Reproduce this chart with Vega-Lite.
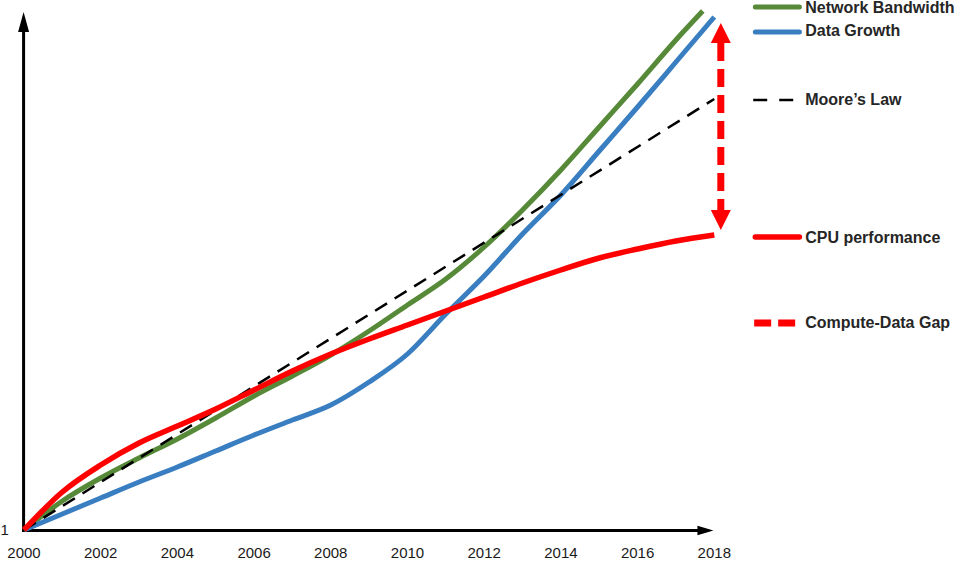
{
  "$schema": "https://vega.github.io/schema/vega-lite/v6.json",
  "width": 960,
  "height": 561,
  "autosize": {"type": "fit", "contains": "padding"},
  "padding": 0,
  "background": "white",
  "config": {"view": {"stroke": null}},
  "datasets": {
    "lines": [
      {"series": "Network Bandwidth", "year": 2000, "value": 0},
      {"series": "Network Bandwidth", "year": 2001, "value": 29},
      {"series": "Network Bandwidth", "year": 2002, "value": 52},
      {"series": "Network Bandwidth", "year": 2003, "value": 72},
      {"series": "Network Bandwidth", "year": 2004, "value": 91},
      {"series": "Network Bandwidth", "year": 2005, "value": 112},
      {"series": "Network Bandwidth", "year": 2006, "value": 134},
      {"series": "Network Bandwidth", "year": 2007, "value": 154},
      {"series": "Network Bandwidth", "year": 2008, "value": 175},
      {"series": "Network Bandwidth", "year": 2009, "value": 199},
      {"series": "Network Bandwidth", "year": 2010, "value": 225},
      {"series": "Network Bandwidth", "year": 2011, "value": 251},
      {"series": "Network Bandwidth", "year": 2012, "value": 283},
      {"series": "Network Bandwidth", "year": 2013, "value": 320},
      {"series": "Network Bandwidth", "year": 2014, "value": 360},
      {"series": "Network Bandwidth", "year": 2015, "value": 403},
      {"series": "Network Bandwidth", "year": 2016, "value": 446},
      {"series": "Network Bandwidth", "year": 2017, "value": 490},
      {"series": "Network Bandwidth", "year": 2017.7, "value": 519},
      {"series": "Data Growth", "year": 2000, "value": 0},
      {"series": "Data Growth", "year": 2001, "value": 16},
      {"series": "Data Growth", "year": 2002, "value": 32},
      {"series": "Data Growth", "year": 2003, "value": 48},
      {"series": "Data Growth", "year": 2004, "value": 63},
      {"series": "Data Growth", "year": 2005, "value": 79},
      {"series": "Data Growth", "year": 2006, "value": 95},
      {"series": "Data Growth", "year": 2007, "value": 110},
      {"series": "Data Growth", "year": 2008, "value": 125},
      {"series": "Data Growth", "year": 2009, "value": 148},
      {"series": "Data Growth", "year": 2010, "value": 176},
      {"series": "Data Growth", "year": 2011, "value": 216},
      {"series": "Data Growth", "year": 2012, "value": 254},
      {"series": "Data Growth", "year": 2013, "value": 296},
      {"series": "Data Growth", "year": 2014, "value": 335},
      {"series": "Data Growth", "year": 2015, "value": 379},
      {"series": "Data Growth", "year": 2016, "value": 423},
      {"series": "Data Growth", "year": 2017, "value": 468},
      {"series": "Data Growth", "year": 2018, "value": 513},
      {"series": "Moore's Law", "year": 2000, "value": 0},
      {"series": "Moore's Law", "year": 2018, "value": 431},
      {"series": "CPU performance", "year": 2000, "value": 0},
      {"series": "CPU performance", "year": 2001, "value": 38},
      {"series": "CPU performance", "year": 2002, "value": 65},
      {"series": "CPU performance", "year": 2003, "value": 87},
      {"series": "CPU performance", "year": 2004, "value": 104},
      {"series": "CPU performance", "year": 2005, "value": 121},
      {"series": "CPU performance", "year": 2006, "value": 140},
      {"series": "CPU performance", "year": 2007, "value": 159},
      {"series": "CPU performance", "year": 2008, "value": 176},
      {"series": "CPU performance", "year": 2009, "value": 191},
      {"series": "CPU performance", "year": 2010, "value": 205},
      {"series": "CPU performance", "year": 2011, "value": 219},
      {"series": "CPU performance", "year": 2012, "value": 233},
      {"series": "CPU performance", "year": 2013, "value": 247},
      {"series": "CPU performance", "year": 2014, "value": 260},
      {"series": "CPU performance", "year": 2015, "value": 272},
      {"series": "CPU performance", "year": 2016, "value": 281},
      {"series": "CPU performance", "year": 2017, "value": 289},
      {"series": "CPU performance", "year": 2018, "value": 295}
    ],
    "ticks": [
      {"year": 2000, "label": "2000"},
      {"year": 2002, "label": "2002"},
      {"year": 2004, "label": "2004"},
      {"year": 2006, "label": "2006"},
      {"year": 2008, "label": "2008"},
      {"year": 2010, "label": "2010"},
      {"year": 2012, "label": "2012"},
      {"year": 2014, "label": "2014"},
      {"year": 2016, "label": "2016"},
      {"year": 2018, "label": "2018"}
    ]
  },
  "layer": [
    {
      "data": {"values": [{}]},
      "mark": {"type": "rule", "color": "#000000", "strokeWidth": 3},
      "encoding": {
        "x": {"datum": 1999.99, "type": "quantitative", "scale": {"domain": [1999.401, 2024.407], "nice": false, "zero": false}, "axis": null},
        "y": {"datum": -2, "type": "quantitative", "scale": {"domain": [-31, 530], "nice": false, "zero": false}, "axis": null},
        "y2": {"datum": 500}
      }
    },
    {
      "data": {"values": [{}]},
      "mark": {"type": "rule", "color": "#000000", "strokeWidth": 3},
      "encoding": {
        "x": {"datum": 1999.95, "type": "quantitative", "scale": {"domain": [1999.401, 2024.407], "nice": false, "zero": false}, "axis": null},
        "x2": {"datum": 2017.6},
        "y": {"datum": -0.5, "type": "quantitative", "scale": {"domain": [-31, 530], "nice": false, "zero": false}, "axis": null}
      }
    },
    {
      "data": {"values": [{}]},
      "mark": {"type": "point", "shape": "M-0.55,1L0,-1L0.55,1Z", "size": 400, "filled": true, "color": "#000000", "opacity": 1, "strokeWidth": 0},
      "encoding": {
        "x": {"datum": 1999.99, "type": "quantitative", "scale": {"domain": [1999.401, 2024.407], "nice": false, "zero": false}, "axis": null},
        "y": {"datum": 508, "type": "quantitative", "scale": {"domain": [-31, 530], "nice": false, "zero": false}, "axis": null}
      }
    },
    {
      "data": {"values": [{}]},
      "mark": {"type": "point", "shape": "M-1,-0.6L1,0L-1,0.6Z", "size": 256, "filled": true, "color": "#000000", "opacity": 1, "strokeWidth": 0},
      "encoding": {
        "x": {"datum": 2017.77, "type": "quantitative", "scale": {"domain": [1999.401, 2024.407], "nice": false, "zero": false}, "axis": null},
        "y": {"datum": -0.5, "type": "quantitative", "scale": {"domain": [-31, 530], "nice": false, "zero": false}, "axis": null}
      }
    },
    {
      "data": {"name": "ticks"},
      "mark": {"type": "text", "font": "Liberation Sans", "fontSize": 15, "color": "#1a1a1a", "align": "center", "baseline": "middle"},
      "encoding": {
        "x": {"field": "year", "type": "quantitative", "scale": {"domain": [1999.401, 2024.407], "nice": false, "zero": false}, "axis": null},
        "y": {"datum": -23, "type": "quantitative", "scale": {"domain": [-31, 530], "nice": false, "zero": false}, "axis": null},
        "text": {"field": "label"}
      }
    },
    {
      "data": {"values": [{"label": "1"}]},
      "mark": {"type": "text", "font": "Liberation Sans", "fontSize": 15, "color": "#1a1a1a", "align": "center", "baseline": "middle"},
      "encoding": {
        "x": {"datum": 1999.5, "type": "quantitative", "scale": {"domain": [1999.401, 2024.407], "nice": false, "zero": false}, "axis": null},
        "y": {"datum": 0, "type": "quantitative", "scale": {"domain": [-31, 530], "nice": false, "zero": false}, "axis": null},
        "text": {"field": "label"}
      }
    },
    {
      "data": {"name": "lines"},
      "transform": [{"filter": "datum.series === 'Network Bandwidth'"}],
      "mark": {"type": "line", "color": "#568a39", "strokeWidth": 5, "interpolate": "monotone"},
      "encoding": {
        "x": {"field": "year", "type": "quantitative", "scale": {"domain": [1999.401, 2024.407], "nice": false, "zero": false}, "axis": null},
        "y": {"field": "value", "type": "quantitative", "scale": {"domain": [-31, 530], "nice": false, "zero": false}, "axis": null}
      }
    },
    {
      "data": {"name": "lines"},
      "transform": [{"filter": "datum.series === 'Data Growth'"}],
      "mark": {"type": "line", "color": "#3a7ec2", "strokeWidth": 5, "interpolate": "monotone"},
      "encoding": {
        "x": {"field": "year", "type": "quantitative", "scale": {"domain": [1999.401, 2024.407], "nice": false, "zero": false}, "axis": null},
        "y": {"field": "value", "type": "quantitative", "scale": {"domain": [-31, 530], "nice": false, "zero": false}, "axis": null}
      }
    },
    {
      "data": {"name": "lines"},
      "transform": [{"filter": "datum.series === \"Moore's Law\""}],
      "mark": {"type": "line", "color": "#000000", "strokeWidth": 2.5, "strokeDash": [14, 9]},
      "encoding": {
        "x": {"field": "year", "type": "quantitative", "scale": {"domain": [1999.401, 2024.407], "nice": false, "zero": false}, "axis": null},
        "y": {"field": "value", "type": "quantitative", "scale": {"domain": [-31, 530], "nice": false, "zero": false}, "axis": null}
      }
    },
    {
      "data": {"name": "lines"},
      "transform": [{"filter": "datum.series === 'CPU performance'"}],
      "mark": {"type": "line", "color": "#ff0000", "strokeWidth": 5.5, "interpolate": "monotone"},
      "encoding": {
        "x": {"field": "year", "type": "quantitative", "scale": {"domain": [1999.401, 2024.407], "nice": false, "zero": false}, "axis": null},
        "y": {"field": "value", "type": "quantitative", "scale": {"domain": [-31, 530], "nice": false, "zero": false}, "axis": null}
      }
    },
    {
      "data": {"values": [{}]},
      "mark": {"type": "rule", "color": "#ff0000", "strokeWidth": 7, "strokeDash": [18, 8]},
      "encoding": {
        "x": {"datum": 2018.17, "type": "quantitative", "scale": {"domain": [1999.401, 2024.407], "nice": false, "zero": false}, "axis": null},
        "y": {"datum": 487, "type": "quantitative", "scale": {"domain": [-31, 530], "nice": false, "zero": false}, "axis": null},
        "y2": {"datum": 320}
      }
    },
    {
      "data": {"values": [{}]},
      "mark": {"type": "point", "shape": "M-1,1L0,-1L1,1Z", "size": 400, "filled": true, "color": "#ff0000", "opacity": 1, "strokeWidth": 0},
      "encoding": {
        "x": {"datum": 2018.17, "type": "quantitative", "scale": {"domain": [1999.401, 2024.407], "nice": false, "zero": false}, "axis": null},
        "y": {"datum": 497, "type": "quantitative", "scale": {"domain": [-31, 530], "nice": false, "zero": false}, "axis": null}
      }
    },
    {
      "data": {"values": [{}]},
      "mark": {"type": "point", "shape": "M-1,-1L0,1L1,-1Z", "size": 400, "filled": true, "color": "#ff0000", "opacity": 1, "strokeWidth": 0},
      "encoding": {
        "x": {"datum": 2018.17, "type": "quantitative", "scale": {"domain": [1999.401, 2024.407], "nice": false, "zero": false}, "axis": null},
        "y": {"datum": 310, "type": "quantitative", "scale": {"domain": [-31, 530], "nice": false, "zero": false}, "axis": null}
      }
    },
    {
      "data": {"values": [{}]},
      "mark": {"type": "rule", "color": "#568a39", "strokeWidth": 5, "strokeCap": "round"},
      "encoding": {
        "x": {"datum": 2019.07, "type": "quantitative", "scale": {"domain": [1999.401, 2024.407], "nice": false, "zero": false}, "axis": null},
        "x2": {"datum": 2020.22},
        "y": {"datum": 523, "type": "quantitative", "scale": {"domain": [-31, 530], "nice": false, "zero": false}, "axis": null}
      }
    },
    {
      "data": {"values": [{}]},
      "mark": {"type": "rule", "color": "#3a7ec2", "strokeWidth": 5, "strokeCap": "round"},
      "encoding": {
        "x": {"datum": 2019.07, "type": "quantitative", "scale": {"domain": [1999.401, 2024.407], "nice": false, "zero": false}, "axis": null},
        "x2": {"datum": 2020.22},
        "y": {"datum": 498, "type": "quantitative", "scale": {"domain": [-31, 530], "nice": false, "zero": false}, "axis": null}
      }
    },
    {
      "data": {"values": [{}]},
      "mark": {"type": "rule", "color": "#000000", "strokeWidth": 2.5, "strokeDash": [14, 12]},
      "encoding": {
        "x": {"datum": 2019.015, "type": "quantitative", "scale": {"domain": [1999.401, 2024.407], "nice": false, "zero": false}, "axis": null},
        "x2": {"datum": 2020.06},
        "y": {"datum": 430, "type": "quantitative", "scale": {"domain": [-31, 530], "nice": false, "zero": false}, "axis": null}
      }
    },
    {
      "data": {"values": [{}]},
      "mark": {"type": "rule", "color": "#ff0000", "strokeWidth": 5.5, "strokeCap": "round"},
      "encoding": {
        "x": {"datum": 2019.07, "type": "quantitative", "scale": {"domain": [1999.401, 2024.407], "nice": false, "zero": false}, "axis": null},
        "x2": {"datum": 2020.22},
        "y": {"datum": 293, "type": "quantitative", "scale": {"domain": [-31, 530], "nice": false, "zero": false}, "axis": null}
      }
    },
    {
      "data": {"values": [{}]},
      "mark": {"type": "rule", "color": "#ff0000", "strokeWidth": 7, "strokeDash": [17, 7]},
      "encoding": {
        "x": {"datum": 2019.04, "type": "quantitative", "scale": {"domain": [1999.401, 2024.407], "nice": false, "zero": false}, "axis": null},
        "x2": {"datum": 2020.16},
        "y": {"datum": 207, "type": "quantitative", "scale": {"domain": [-31, 530], "nice": false, "zero": false}, "axis": null}
      }
    },
    {
      "data": {"values": [
        {"label": "Network Bandwidth", "pos": 522},
        {"label": "Data Growth", "pos": 499},
        {"label": "Moore’s Law", "pos": 430},
        {"label": "CPU performance", "pos": 292},
        {"label": "Compute-Data Gap", "pos": 207}
      ]},
      "mark": {"type": "text", "font": "Liberation Sans", "fontSize": 16, "fontWeight": "bold", "color": "#262626", "align": "left", "baseline": "middle"},
      "encoding": {
        "x": {"datum": 2020.37, "type": "quantitative", "scale": {"domain": [1999.401, 2024.407], "nice": false, "zero": false}, "axis": null},
        "y": {"field": "pos", "type": "quantitative", "scale": {"domain": [-31, 530], "nice": false, "zero": false}, "axis": null},
        "text": {"field": "label"}
      }
    }
  ]
}
